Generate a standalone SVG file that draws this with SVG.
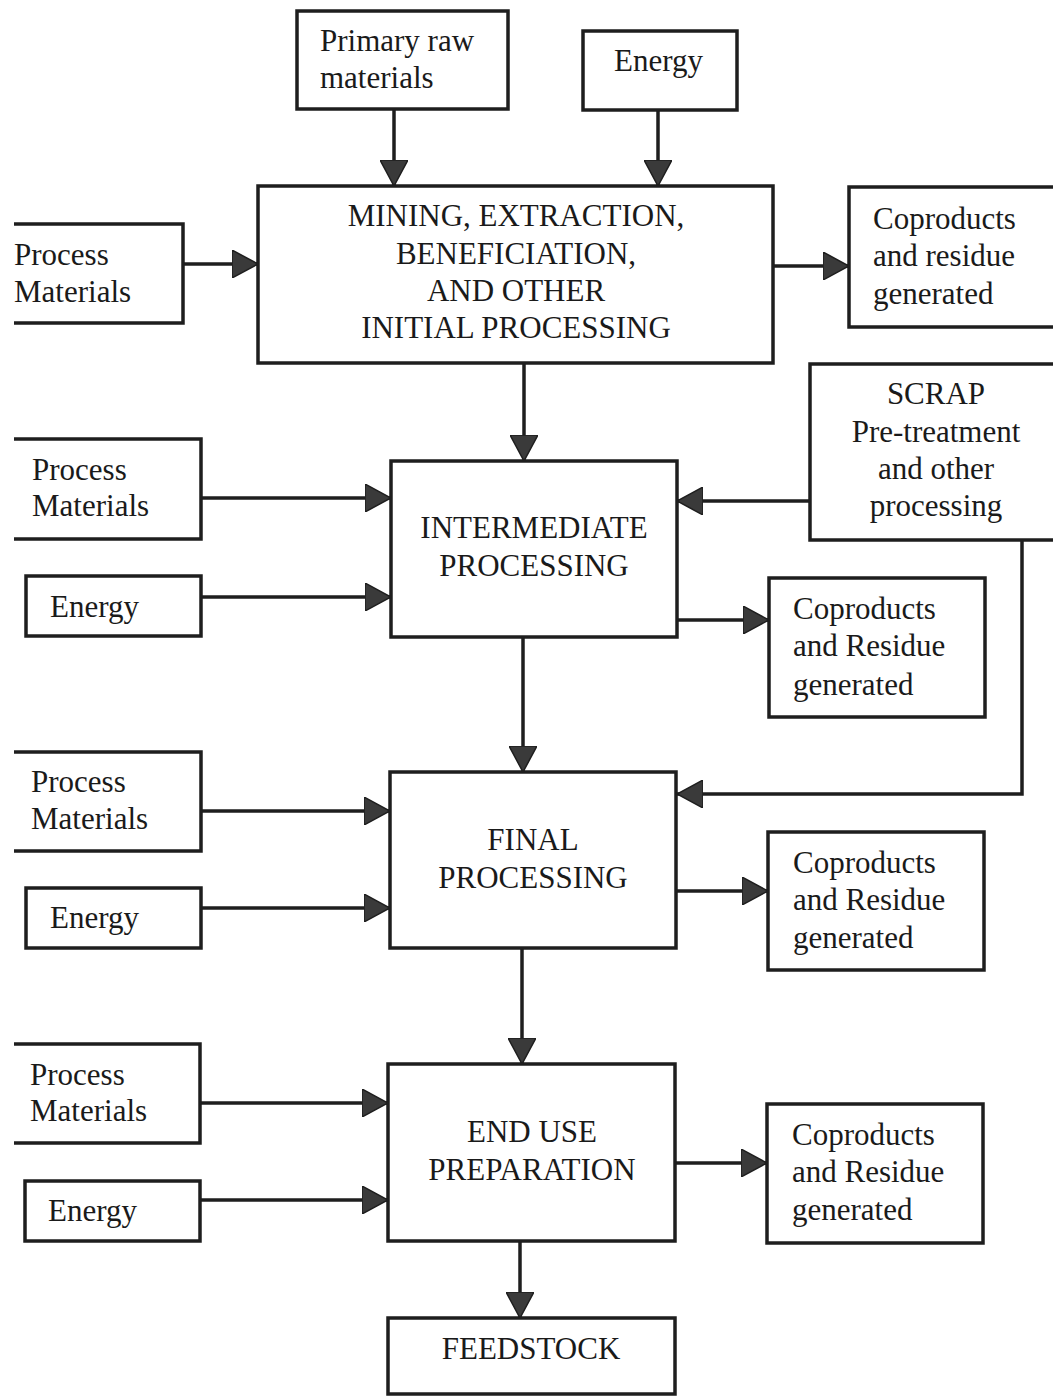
<svg xmlns="http://www.w3.org/2000/svg" width="1053" height="1396" viewBox="0 0 1053 1396">
  <style>
    .box { fill: #ffffff; stroke: #1e1e1e; stroke-width: 3.5; }
    .open { fill: #ffffff; stroke: #1e1e1e; stroke-width: 3.5; stroke-linejoin: miter; }
    .lbl { font-family: "Liberation Serif", "Times New Roman", serif; font-size: 31px; fill: #1a1a1a; }
    .c { text-anchor: middle; }
    .edge { fill: none; stroke: #1e1e1e; stroke-width: 3.5; }
  </style>
  <defs>
    <marker id="arrow" markerUnits="userSpaceOnUse" markerWidth="26" markerHeight="28" refX="26" refY="14" orient="auto">
      <path d="M0,0 L26,14 L0,28 Z" fill="#3a3a3a" stroke="#1e1e1e" stroke-width="1.5"/>
    </marker>
  </defs>
  <rect width="1053" height="1396" fill="#ffffff"/>

  <!-- connectors -->
  <g id="connectors">
    <path class="edge" d="M394,109 V186" marker-end="url(#arrow)"/>
    <path class="edge" d="M658,110 V186" marker-end="url(#arrow)"/>
    <path class="edge" d="M183,264 H258" marker-end="url(#arrow)"/>
    <path class="edge" d="M773,266 H849" marker-end="url(#arrow)"/>
    <path class="edge" d="M524,363 V461" marker-end="url(#arrow)"/>
    <path class="edge" d="M201,498 H391" marker-end="url(#arrow)"/>
    <path class="edge" d="M201,597 H391" marker-end="url(#arrow)"/>
    <path class="edge" d="M810,501 H677" marker-end="url(#arrow)"/>
    <path class="edge" d="M677,620 H769" marker-end="url(#arrow)"/>
    <path class="edge" d="M1022,540 V794 H677" marker-end="url(#arrow)"/>
    <path class="edge" d="M523,637 V772" marker-end="url(#arrow)"/>
    <path class="edge" d="M201,811 H390" marker-end="url(#arrow)"/>
    <path class="edge" d="M201,908 H390" marker-end="url(#arrow)"/>
    <path class="edge" d="M676,891 H768" marker-end="url(#arrow)"/>
    <path class="edge" d="M522,948 V1064" marker-end="url(#arrow)"/>
    <path class="edge" d="M200,1103 H388" marker-end="url(#arrow)"/>
    <path class="edge" d="M200,1200 H388" marker-end="url(#arrow)"/>
    <path class="edge" d="M675,1163 H767" marker-end="url(#arrow)"/>
    <path class="edge" d="M520,1241 V1318" marker-end="url(#arrow)"/>
  </g>

  <!-- top inputs -->
  <g id="primary-raw">
    <rect class="box" x="297" y="11" width="211" height="98"/>
    <text class="lbl" x="320" y="51">Primary raw</text>
    <text class="lbl" x="320" y="88">materials</text>
  </g>
  <g id="energy-top">
    <rect class="box" x="583" y="31" width="154" height="79"/>
    <text class="lbl" x="614" y="71">Energy</text>
  </g>

  <!-- stage 1 -->
  <g id="mining">
    <rect class="box" x="258" y="186" width="515" height="177"/>
    <text class="lbl c" x="516" y="226">MINING, EXTRACTION,</text>
    <text class="lbl c" x="516" y="264">BENEFICIATION,</text>
    <text class="lbl c" x="516" y="301">AND OTHER</text>
    <text class="lbl c" x="516" y="338">INITIAL PROCESSING</text>
  </g>
  <g id="process-materials-1">
    <path class="open" d="M14,224 H183 V323 H14"/>
    <text class="lbl" x="14" y="265">Process</text>
    <text class="lbl" x="14" y="302">Materials</text>
  </g>
  <g id="coproducts-1">
    <rect class="box" x="849" y="187" width="214" height="140"/>
    <text class="lbl" x="873" y="229">Coproducts</text>
    <text class="lbl" x="873" y="266">and residue</text>
    <text class="lbl" x="873" y="304">generated</text>
  </g>

  <!-- scrap -->
  <g id="scrap">
    <rect class="box" x="810" y="364" width="253" height="176"/>
    <text class="lbl c" x="936" y="404">SCRAP</text>
    <text class="lbl c" x="936" y="442">Pre-treatment</text>
    <text class="lbl c" x="936" y="479">and other</text>
    <text class="lbl c" x="936" y="516">processing</text>
  </g>

  <!-- stage 2 -->
  <g id="intermediate">
    <rect class="box" x="391" y="461" width="286" height="176"/>
    <text class="lbl c" x="534" y="538">INTERMEDIATE</text>
    <text class="lbl c" x="534" y="576">PROCESSING</text>
  </g>
  <g id="process-materials-2">
    <path class="open" d="M14,439 H201 V539 H14"/>
    <text class="lbl" x="32" y="480">Process</text>
    <text class="lbl" x="32" y="516">Materials</text>
  </g>
  <g id="energy-2">
    <rect class="box" x="26" y="576" width="175" height="60"/>
    <text class="lbl" x="50" y="617">Energy</text>
  </g>
  <g id="coproducts-2">
    <rect class="box" x="769" y="578" width="216" height="139"/>
    <text class="lbl" x="793" y="619">Coproducts</text>
    <text class="lbl" x="793" y="656">and Residue</text>
    <text class="lbl" x="793" y="695">generated</text>
  </g>

  <!-- stage 3 -->
  <g id="final">
    <rect class="box" x="390" y="772" width="286" height="176"/>
    <text class="lbl c" x="533" y="850">FINAL</text>
    <text class="lbl c" x="533" y="888">PROCESSING</text>
  </g>
  <g id="process-materials-3">
    <path class="open" d="M14,752 H201 V851 H14"/>
    <text class="lbl" x="31" y="792">Process</text>
    <text class="lbl" x="31" y="829">Materials</text>
  </g>
  <g id="energy-3">
    <rect class="box" x="26" y="888" width="175" height="60"/>
    <text class="lbl" x="50" y="928">Energy</text>
  </g>
  <g id="coproducts-3">
    <rect class="box" x="768" y="832" width="216" height="138"/>
    <text class="lbl" x="793" y="873">Coproducts</text>
    <text class="lbl" x="793" y="910">and Residue</text>
    <text class="lbl" x="793" y="948">generated</text>
  </g>

  <!-- stage 4 -->
  <g id="end-use">
    <rect class="box" x="388" y="1064" width="287" height="177"/>
    <text class="lbl c" x="532" y="1142">END USE</text>
    <text class="lbl c" x="532" y="1180">PREPARATION</text>
  </g>
  <g id="process-materials-4">
    <path class="open" d="M14,1044 H200 V1143 H14"/>
    <text class="lbl" x="30" y="1085">Process</text>
    <text class="lbl" x="30" y="1121">Materials</text>
  </g>
  <g id="energy-4">
    <rect class="box" x="25" y="1181" width="175" height="60"/>
    <text class="lbl" x="48" y="1221">Energy</text>
  </g>
  <g id="coproducts-4">
    <rect class="box" x="767" y="1104" width="216" height="139"/>
    <text class="lbl" x="792" y="1145">Coproducts</text>
    <text class="lbl" x="792" y="1182">and Residue</text>
    <text class="lbl" x="792" y="1220">generated</text>
  </g>

  <!-- output -->
  <g id="feedstock">
    <rect class="box" x="388" y="1318" width="287" height="76"/>
    <text class="lbl c" x="531" y="1359">FEEDSTOCK</text>
  </g>
</svg>
